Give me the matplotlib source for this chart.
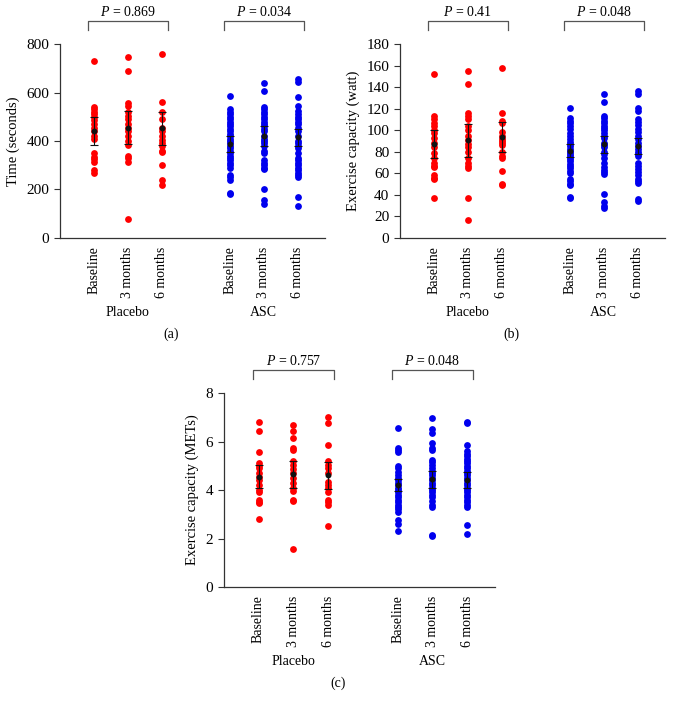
import matplotlib
matplotlib.use("Agg")
import matplotlib.pyplot as plt
import matplotlib.transforms as mtransforms

plt.rcParams["font.family"] = ["Liberation Serif", "DejaVu Serif"]

# ── data ─────────────────────────────────────────────────────────────────────
categories = ["Baseline", "3 months", "6 months"]
groups = ["Placebo", "ASC"]

# (a) time (seconds)
time_placebo = [
    [730, 540, 530, 520, 510, 500, 485, 470, 455, 440, 420, 410, 350, 335, 325, 315, 280, 270],
    [745, 690, 555, 545, 520, 505, 490, 470, 455, 440, 420, 400, 385, 340, 330, 315, 80],
    [760, 560, 520, 490, 455, 440, 420, 405, 390, 380, 360, 355, 300, 240, 220],
]
time_asc = [
    [585, 530, 520, 510, 500, 490, 480, 470, 460, 450, 440, 430, 420, 410, 400, 390,
     380, 370, 360, 350, 340, 330, 320, 310, 300, 290, 260, 250, 240, 185, 180],
    [640, 605, 540, 530, 520, 510, 500, 490, 480, 470, 460, 450, 440, 420, 410, 400,
     390, 380, 360, 350, 320, 310, 300, 290, 285, 200, 155, 140],
    [655, 645, 580, 545, 525, 510, 500, 490, 480, 470, 455, 440, 420, 400, 390, 380,
     370, 350, 330, 320, 310, 300, 290, 280, 270, 260, 250, 170, 130],
]
time_mean = [441, 455, 452, 388, 420, 415]
time_err = [56, 67, 68, 33, 42, 36]

# (b) exercise capacity (watt)
watt_placebo = [
    [152, 113, 110, 107, 104, 100, 97, 93, 88, 84, 79, 74, 70, 67, 66, 58, 56, 55, 37],
    [155, 143, 116, 113, 110, 104, 100, 95, 91, 87, 84, 80, 74, 70, 67, 65, 37, 17],
    [158, 116, 109, 107, 98, 95, 92, 90, 88, 86, 80, 76, 74, 62, 50, 49],
]
watt_asc = [
    [121, 111, 109, 107, 104, 101, 97, 95, 92, 89, 87, 85, 83, 81, 79, 77, 75, 73,
     71, 69, 67, 65, 62, 60, 55, 53, 50, 49, 38, 37],
    [134, 126, 113, 111, 109, 107, 104, 102, 100, 97, 95, 93, 88, 86, 84, 80, 78, 74,
     70, 66, 63, 61, 59, 41, 33, 30, 28],
    [136, 134, 121, 118, 110, 108, 105, 101, 98, 95, 92, 88, 85, 83, 80, 78, 76, 70,
     67, 64, 61, 58, 55, 53, 51, 36, 34],
]
watt_mean = [87, 90.5, 94, 81, 87, 85.5]
watt_err = [13, 15, 14, 6, 8, 7.5]

# (c) exercise capacity (METs)
mets_placebo = [
    [6.8, 6.45, 5.55, 5.1, 5.0, 4.9, 4.7, 4.55, 4.4, 4.2, 4.0, 3.9, 3.6, 3.5, 3.45, 2.8],
    [6.7, 6.45, 6.15, 5.75, 5.65, 5.2, 5.05, 4.85, 4.7, 4.5, 4.3, 4.1, 3.95, 3.6, 3.55, 1.55],
    [7.0, 6.75, 5.85, 5.2, 5.05, 4.9, 4.7, 4.35, 4.2, 4.1, 3.9, 3.6, 3.5, 3.4, 2.5],
]
mets_asc = [
    [6.55, 5.75, 5.65, 5.55, 5.0, 4.9, 4.75, 4.6, 4.5, 4.4, 4.3, 4.2, 4.1, 4.0, 3.9,
     3.8, 3.7, 3.6, 3.5, 3.4, 3.3, 3.2, 3.1, 2.75, 2.6, 2.3],
    [6.95, 6.5, 6.35, 5.95, 5.75, 5.65, 5.25, 5.15, 5.05, 4.9, 4.8, 4.7, 4.6, 4.5, 4.4,
     4.3, 4.2, 4.1, 4.0, 3.9, 3.8, 3.7, 3.55, 3.4, 3.3, 2.15, 2.1],
    [6.8, 6.75, 5.85, 5.6, 5.5, 5.4, 5.3, 5.2, 5.1, 5.0, 4.9, 4.8, 4.7, 4.6, 4.5, 4.4,
     4.3, 4.2, 4.1, 4.0, 3.9, 3.8, 3.7, 3.6, 3.5, 3.4, 3.3, 2.55, 2.2],
]
mets_mean = [4.55, 4.65, 4.6, 4.2, 4.45, 4.4]
mets_err = [0.47, 0.55, 0.55, 0.25, 0.35, 0.33]

p_values = {
    "a": ["0.869", "0.034"],
    "b": ["0.41", "0.048"],
    "c": ["0.757", "0.048"],
}

# ── layout ───────────────────────────────────────────────────────────────────
positions = [1, 2, 3, 5, 6, 7]
RED, BLUE = "#ff0000", "#0000ee"
AXC = "#333333"


def draw_panel(ax, placebo, asc, means, errs, ylim, yticks, ylabel, pvals, tag):
    for i, vals in enumerate(placebo):
        ax.scatter([positions[i]] * len(vals), vals, s=24, color=RED, lw=0, zorder=2)
    for i, vals in enumerate(asc):
        ax.scatter([positions[i + 3]] * len(vals), vals, s=24, color=BLUE, lw=0, zorder=2)
    ax.errorbar(positions, means, yerr=errs, fmt="o", ms=3.2, color="#111111",
                ecolor="#111111", elinewidth=0.8, capsize=3, capthick=0.8, zorder=3)

    ax.set_xlim(0, 7.8)
    ax.set_ylim(*ylim)
    ax.set_yticks(yticks)
    ax.set_xticks(positions)
    ax.set_xticklabels(categories * 2, rotation=90, fontsize=10)
    ax.tick_params(axis="x", length=0, pad=6)
    ax.tick_params(axis="y", labelsize=11, length=4, width=0.8, color=AXC)
    ax.set_ylabel(ylabel, fontsize=10.5, labelpad=5)
    for s in ("top", "right"):
        ax.spines[s].set_visible(False)
    for s in ("left", "bottom"):
        ax.spines[s].set_color(AXC)
        ax.spines[s].set_linewidth(0.9)

    trans = mtransforms.blended_transform_factory(ax.transData, ax.transAxes)
    for k, (x0, x1) in enumerate([(1, 3), (5, 7)]):
        xa, xb = x0 - 0.17, x1 + 0.17
        ax.plot([xa, xa, xb, xb], [1.072, 1.119, 1.119, 1.072], color="#555555",
                lw=0.9, transform=trans, clip_on=False)
        ax.text((x0 + x1) / 2, 1.165, f"$P$ = {pvals[k]}", transform=trans,
                ha="center", va="center", fontsize=10)
        ax.text((x0 + x1) / 2, -0.385, groups[k], transform=trans,
                ha="center", va="center", fontsize=10)
    ax.text(0.42, -0.495, tag, transform=ax.transAxes, ha="center", va="center",
            fontsize=10)


plt.rcParams["mathtext.fontset"] = "custom"
plt.rcParams["mathtext.it"] = "Liberation Serif:italic"
plt.rcParams["mathtext.rm"] = "Liberation Serif"

fig = plt.figure(figsize=(6.8, 7.11), dpi=100)
fig.patch.set_facecolor("white")

ax_a = fig.add_axes([0.088, 0.6653, 0.39, 0.2728])
ax_b = fig.add_axes([0.588, 0.6653, 0.39, 0.2728])
ax_c = fig.add_axes([0.329, 0.1744, 0.399, 0.2728])

draw_panel(ax_a, time_placebo, time_asc, time_mean, time_err, (0, 800),
           range(0, 801, 200), "Time (seconds)", p_values["a"], "(a)")
draw_panel(ax_b, watt_placebo, watt_asc, watt_mean, watt_err, (0, 180),
           range(0, 181, 20), "Exercise capacity (watt)", p_values["b"], "(b)")
draw_panel(ax_c, mets_placebo, mets_asc, mets_mean, mets_err, (0, 8),
           range(0, 9, 2), "Exercise capacity (METs)", p_values["c"], "(c)")

fig.savefig("out.png", dpi=100, facecolor="white")
